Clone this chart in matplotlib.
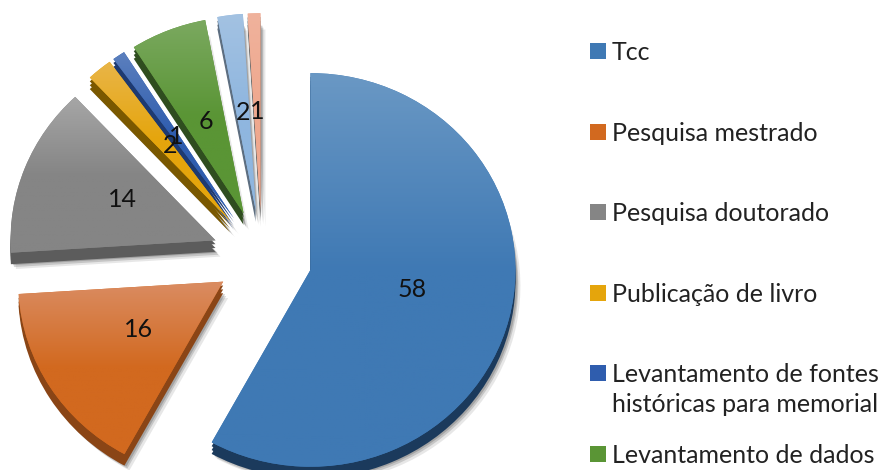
import numpy as np
import matplotlib
matplotlib.use("Agg")
import matplotlib.pyplot as plt
from matplotlib.colors import LinearSegmentedColormap
from matplotlib.patches import Rectangle

categorias = ["Tcc", "Pesquisa mestrado", "Pesquisa doutorado", "Publicação de livro",
              "Levantamento de fontes\nhistóricas para memorial", "Levantamento de dados"]
valores = [58, 16, 14, 2, 1, 6, 2, 1]

cor_base = ["#3F79B4", "#D2691F", "#858585", "#E5A50C", "#2F5DAE", "#5A9535", "#8FB6DF", "#EFA88E"]
cor_clara = ["#6A98C4", "#DA8C62", "#A6A6A6", "#E9B548", "#5C80BE", "#7BA960", "#A3C2E2", "#F0B29C"]
cor_lado = ["#1B3A5C", "#8A4516", "#5C5C5C", "#7A5800", "#1E3A70", "#2F4D1F", "#5D6E80", "#666666"]

plt.rcParams["font.family"] = ["Lato", "DejaVu Sans"]

ACHAT = 0.96
CX, CY = 262, (470 - 258) / ACHAT
R = 205
EXP = [50, 46, 50, 50, 50, 50, 50, 50]

fig = plt.figure(figsize=(8.83, 4.70), dpi=100)
ax = fig.add_axes([0, 0, 1, 1])

# sombra
for dx, dy, a in [(5, 17, 0.12), (3, 15, 0.2), (2, 13, 0.25)]:
    ax.pie(valores, colors=["#404040"] * 8, startangle=90, counterclock=False, radius=R,
           center=(CX + dx, CY - dy), explode=EXP, frame=True,
           wedgeprops=dict(alpha=a, linewidth=0))

# lado
for d in [4, 8, 12]:
    ax.pie(valores, colors=cor_lado, startangle=90, counterclock=False, radius=R,
           center=(CX, CY - d), explode=EXP, frame=True, wedgeprops=dict(linewidth=0))

# topo
fatias, _, rotulos = ax.pie(valores, colors=cor_base, startangle=90, counterclock=False, radius=R,
                            center=(CX, CY), explode=EXP, frame=True, autopct="%.0f", pctdistance=0.5,
                            textprops=dict(fontsize=18, color="#111111"), wedgeprops=dict(linewidth=0))

for f, c1, c2 in zip(fatias, cor_clara, cor_base):
    grad = np.linspace(0, 1, 200).reshape(-1, 1)
    cm = LinearSegmentedColormap.from_list("g", [c1, c2, c2], N=256)
    bb = f.get_path().get_extents(f.get_patch_transform())
    im = ax.imshow(grad, extent=[bb.x0, bb.x1, bb.y0, bb.y1], origin="upper", cmap=cm,
                   aspect="auto", zorder=1.5)
    im.set_clip_path(f)

for t in rotulos:
    t.set_zorder(5)

# rotulos maiores ficam um pouco acima do centro da fatia
for t in rotulos[:3]:
    x, y = t.get_position()
    t.set_position((x + 2, y + 5))
x, y = rotulos[3].get_position()
rotulos[3].set_position((x + 5, y))

ax.set_aspect("auto")
ax.set_xlim(0, 883)
ax.set_ylim(0, 470 / ACHAT)
ax.axis("off")

# legenda com passo fixo, a entrada de duas linhas nao empurra a seguinte
for i, nome in enumerate(categorias):
    y = 51 + i * 80.6
    fig.add_artist(Rectangle((590 / 883, 1 - (y + 8) / 470), 16 / 883, 16 / 470,
                             transform=fig.transFigure, facecolor=cor_base[i], linewidth=0))
    fig.text(612 / 883, 1 - (y - 10) / 470, nome, fontsize=18, color="#222222", va="top",
             linespacing=1.36)

fig.savefig("out.png", dpi=100)
